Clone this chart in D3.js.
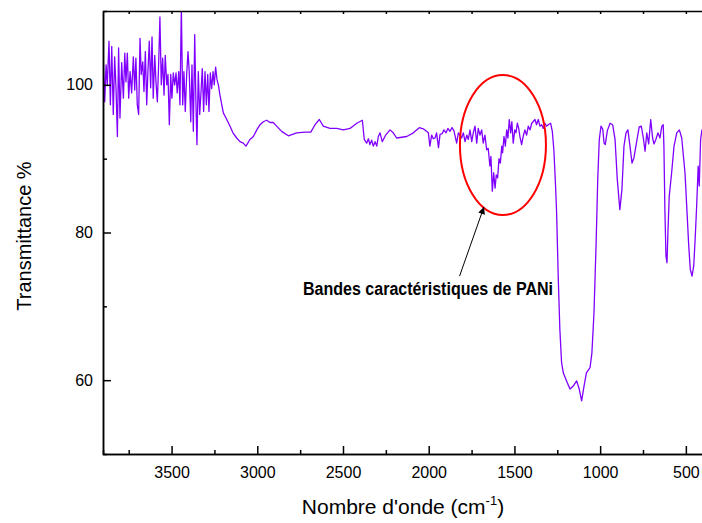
<!DOCTYPE html>
<html>
<head>
<meta charset="utf-8">
<script src="https://cdn.jsdelivr.net/npm/d3@7"></script>
<style>
  body { margin: 0; background: #fff; }
  svg { font-family: "Liberation Sans", Arial, sans-serif; }
</style>
</head>
<body>
<div id="chart"></div>
<script>
// FTIR spectrum (wavenumber cm-1, transmittance %)
var wavenumbers = [
  3898, 3890, 3882, 3875, 3865, 3857, 3849, 3840, 3832, 3824, 3816, 3809, 3801, 3791, 3781, 3773,
  3766, 3758, 3750, 3742, 3733, 3723, 3715, 3708, 3700, 3692, 3684, 3677, 3668, 3661, 3653, 3645,
  3638, 3630, 3622, 3614, 3607, 3598, 3591, 3583, 3575, 3568, 3560, 3552, 3544, 3537, 3528, 3521,
  3513, 3505, 3498, 3490, 3482, 3474, 3467, 3458, 3451, 3443, 3435, 3428, 3420, 3412, 3404, 3397,
  3388, 3381, 3373, 3365, 3358, 3352, 3344, 3336, 3328, 3321, 3313, 3305, 3297, 3289, 3282, 3274,
  3266, 3258, 3251, 3243, 3235, 3227, 3217, 3198, 3178, 3159, 3142, 3120, 3101, 3082, 3066, 3043,
  3023, 3003, 2984, 2965, 2945, 2926, 2907, 2887, 2858, 2819, 2770, 2722, 2688, 2663, 2638, 2615,
  2576, 2537, 2498, 2459, 2420, 2387, 2376, 2362, 2352, 2343, 2333, 2323, 2313, 2303, 2294, 2284,
  2271, 2251, 2226, 2207, 2187, 2128, 2090, 2055, 2028, 2002, 1993, 1983, 1973, 1963, 1954, 1943,
  1934, 1921, 1911, 1899, 1888, 1876, 1864, 1853, 1837, 1827, 1808, 1798, 1788, 1778, 1769, 1759,
  1749, 1740, 1730, 1720, 1711, 1701, 1691, 1682, 1672, 1662, 1653, 1643, 1637, 1629, 1621, 1613,
  1606, 1598, 1590, 1582, 1574, 1569, 1561, 1553, 1545, 1538, 1530, 1522, 1515, 1507, 1498, 1491,
  1483, 1475, 1468, 1458, 1449, 1439, 1429, 1419, 1409, 1399, 1391, 1380, 1371, 1361, 1351, 1341,
  1332, 1322, 1313, 1303, 1289, 1279, 1270, 1260, 1254, 1244, 1235, 1225, 1215, 1196, 1176, 1157,
  1137, 1122, 1108, 1094, 1080, 1059, 1048, 1036, 1024, 1014, 1005, 995, 985, 977, 970, 958,
  942, 927, 913, 900, 885, 873, 861, 849, 838, 826, 814, 803, 787, 772, 760, 748,
  738, 728, 717, 705, 694, 686, 675, 663, 651, 640, 632, 628, 622, 616, 610, 604,
  597, 583, 569, 553, 538, 524, 514, 505, 495, 483, 474, 464, 454, 445, 437, 428,
  422, 414, 406, 395
];
var transmittance = [
  103.1, 97.7, 102.7, 100.0, 105.9, 97.3, 105.2, 96.0, 103.8, 99.5, 93.0, 105.0, 95.5, 103.0, 98.2, 104.3,
  100.4, 104.3, 98.2, 101.8, 98.9, 103.8, 99.3, 103.6, 97.3, 96.0, 106.3, 101.4, 103.1, 99.1, 104.5, 97.3,
  101.8, 105.9, 99.6, 106.5, 98.2, 104.0, 100.4, 97.7, 103.1, 109.2, 100.0, 103.6, 98.6, 104.0, 100.0, 101.4,
  94.6, 101.4, 98.2, 101.6, 100.0, 101.6, 98.9, 101.8, 97.3, 110.5, 97.3, 101.8, 96.4, 101.4, 104.5, 101.8,
  95.0, 102.7, 93.7, 106.8, 97.7, 91.9, 101.8, 96.0, 99.1, 102.2, 96.4, 101.8, 97.3, 101.4, 96.4, 101.6,
  99.5, 101.8, 100.0, 102.4, 100.7, 100.0, 98.5, 96.2, 95.3, 94.4, 93.5, 92.8, 92.3, 92.1, 91.7, 92.6,
  93.0, 93.9, 94.6, 95.0, 95.2, 94.9, 94.9, 94.4, 93.7, 93.1, 93.5, 93.6, 93.6, 94.6, 95.3, 94.4,
  94.1, 94.1, 93.9, 94.1, 94.8, 95.2, 92.6, 92.1, 92.7, 91.9, 92.5, 91.7, 92.3, 91.7, 93.0, 93.5,
  92.3, 93.2, 93.9, 93.5, 92.8, 93.0, 93.5, 94.2, 94.0, 93.5, 91.7, 93.2, 92.7, 92.8, 93.5, 91.5,
  93.3, 93.4, 93.9, 93.5, 94.1, 93.7, 94.2, 93.8, 92.1, 93.5, 92.8, 93.5, 92.3, 93.2, 92.6, 93.9,
  92.3, 93.5, 94.4, 92.1, 94.1, 93.2, 93.9, 92.1, 93.2, 91.2, 91.4, 89.0, 90.3, 85.6, 88.1, 86.0,
  87.8, 87.4, 90.0, 89.4, 91.7, 90.8, 93.0, 91.7, 93.9, 92.8, 95.3, 93.5, 95.0, 92.1, 93.9, 93.5,
  94.8, 94.1, 93.0, 91.9, 93.0, 93.9, 93.2, 94.4, 93.9, 94.8, 95.0, 95.3, 94.6, 95.3, 94.4, 94.6,
  94.1, 94.8, 94.4, 94.6, 94.8, 93.7, 91.2, 86.3, 82.7, 73.6, 66.9, 62.4, 61.0, 59.9, 58.8, 59.2,
  59.9, 58.8, 57.2, 59.2, 61.0, 61.7, 63.7, 69.1, 78.1, 87.2, 92.6, 94.4, 94.0, 92.1, 91.9, 93.8,
  94.8, 94.6, 92.6, 87.2, 83.1, 85.8, 91.7, 93.5, 93.9, 91.7, 89.4, 90.1, 92.3, 94.3, 94.4, 92.8,
  91.0, 93.5, 92.0, 95.3, 92.8, 92.0, 92.6, 93.5, 92.8, 94.4, 94.6, 91.7, 82.7, 76.8, 75.9, 80.4,
  84.9, 88.1, 91.7, 93.5, 93.9, 92.8, 90.3, 88.1, 83.6, 78.1, 75.0, 74.1, 75.5, 79.5, 83.6, 89.0,
  86.3, 92.6, 93.9, 94.0
];

var xMajorTicks = [3500, 3000, 2500, 2000, 1500, 1000, 500];
var xMinorTicks = [3750, 3250, 2750, 2250, 1750, 1250, 750];
var xTopTicks = [3750, 3500, 3250, 3000, 2750, 2500, 2250, 2000, 1750, 1500, 1250, 1000, 750, 500];
var yMajorTicks = [60, 80, 100];
var yMinorTicks = [70, 90];

var annotationText = "Bandes caractéristiques de PANi";

var svgWidth = 702;
var svgHeight = 523;
var margin = { top: 11, left: 103 };
var width = 600;
var height = 443;

var svg = d3.select("#chart")
    .append("svg")
    .attr("width", svgWidth)
    .attr("height", svgHeight);

var chartGroup = svg.append("g")
    .attr("transform", `translate(${margin.left}, ${margin.top})`);

var xScale = d3.scaleLinear().domain([3900, 400]).range([0, width]);
var yScale = d3.scaleLinear().domain([50, 110]).range([height, 0]);

svg.append("defs").append("clipPath")
    .attr("id", "plot-clip")
    .append("rect")
    .attr("width", width)
    .attr("height", height);

var spectrum = wavenumbers.map((w, i) => ({ w: w, t: transmittance[i] }));

var line = d3.line()
    .x(d => xScale(d.w))
    .y(d => yScale(d.t));

chartGroup.append("path")
    .datum(spectrum)
    .attr("clip-path", "url(#plot-clip)")
    .attr("fill", "none")
    .attr("stroke", "#8000ff")
    .attr("stroke-width", 1.3)
    .attr("stroke-linejoin", "round")
    .attr("d", line);

// bottom axis, ticks pointing inward
var bottomAxis = d3.axisBottom(xScale)
    .tickValues(xMajorTicks)
    .tickSizeInner(-8)
    .tickSizeOuter(0)
    .tickPadding(13)
    .tickFormat(d3.format("d"));

chartGroup.append("g")
    .attr("transform", `translate(0, ${height})`)
    .call(bottomAxis);

chartGroup.append("g")
    .attr("transform", `translate(0, ${height})`)
    .call(d3.axisBottom(xScale).tickValues(xMinorTicks).tickSize(-4).tickFormat(""));

// top border with small ticks
chartGroup.append("g")
    .call(d3.axisTop(xScale).tickValues(xTopTicks).tickSizeInner(-3).tickSizeOuter(0).tickFormat(""));

// left axis
var leftAxis = d3.axisLeft(yScale)
    .tickValues(yMajorTicks)
    .tickSizeInner(-8)
    .tickSizeOuter(0)
    .tickPadding(10);

chartGroup.append("g").call(leftAxis);

chartGroup.append("g")
    .call(d3.axisLeft(yScale).tickValues(yMinorTicks).tickSize(-4).tickFormat(""));

chartGroup.selectAll(".domain, .tick line")
    .attr("stroke", "#000")
    .attr("stroke-width", 1.5);

chartGroup.selectAll(".tick text")
    .attr("font-family", "'Liberation Sans', Arial, sans-serif")
    .attr("font-size", "16px")
    .attr("fill", "#000");

// axis titles
var xTitle = svg.append("text")
    .attr("x", 403)
    .attr("y", 514)
    .attr("text-anchor", "middle")
    .attr("font-size", "21px")
    .attr("fill", "#000");
xTitle.append("tspan").text("Nombre d'onde (cm");
xTitle.append("tspan").attr("font-size", "13px").attr("dy", -9).text("-1");
xTitle.append("tspan").attr("dy", 9).text(")");

svg.append("text")
    .attr("transform", "translate(31, 236) rotate(-90)")
    .attr("text-anchor", "middle")
    .attr("font-size", "20px")
    .attr("fill", "#000")
    .text("Transmittance %");

// annotation: ellipse, arrow and label
var bandCenter = 1567;
var bandT = 91.85;
chartGroup.append("ellipse")
    .attr("cx", xScale(bandCenter))
    .attr("cy", yScale(bandT))
    .attr("rx", 43)
    .attr("ry", 70)
    .attr("fill", "none")
    .attr("stroke", "#ff0000")
    .attr("stroke-width", 2);

svg.select("defs").append("marker")
    .attr("id", "arrowhead")
    .attr("viewBox", "0 0 10 10")
    .attr("refX", 10)
    .attr("refY", 5)
    .attr("markerWidth", 10)
    .attr("markerHeight", 7)
    .attr("markerUnits", "userSpaceOnUse")
    .attr("orient", "auto")
    .append("path")
    .attr("d", "M0,0 L10,5 L0,10 Z")
    .attr("fill", "#000");

chartGroup.append("line")
    .attr("x1", xScale(1820))
    .attr("y1", yScale(74.1))
    .attr("x2", xScale(1678))
    .attr("y2", yScale(83.45))
    .attr("stroke", "#000")
    .attr("stroke-width", 1)
    .attr("marker-end", "url(#arrowhead)");

svg.append("text")
    .attr("x", 303)
    .attr("y", 295)
    .attr("font-size", "18px")
    .attr("font-weight", "bold")
    .attr("textLength", 250)
    .attr("lengthAdjust", "spacingAndGlyphs")
    .attr("fill", "#000")
    .text(annotationText);
</script>
</body>
</html>
